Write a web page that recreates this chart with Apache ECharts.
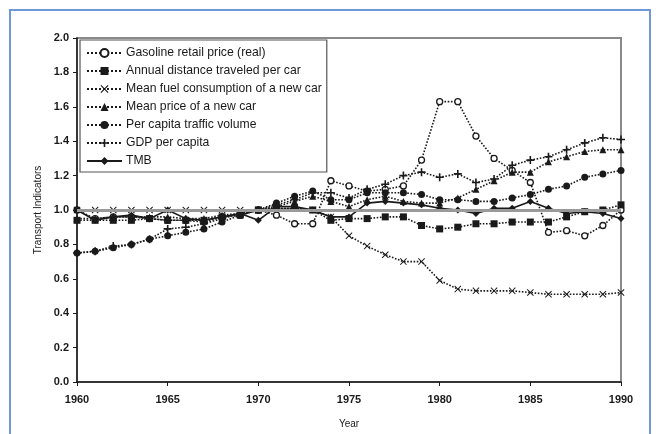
<!DOCTYPE html>
<html><head><meta charset="utf-8">
<script src="https://cdn.jsdelivr.net/npm/echarts@6/dist/echarts.min.js"></script>
<style>html,body{margin:0;padding:0;background:#fff}#c{width:659px;height:434px}</style>
</head><body><div id="c"></div>
<script>
const years = [1960,1961,1962,1963,1964,1965,1966,1967,1968,1969,1970,1971,1972,1973,1974,1975,1976,1977,1978,1979,1980,1981,1982,1983,1984,1985,1986,1987,1988,1989,1990];
const xTicks = [1960,1965,1970,1975,1980,1985,1990];
const yTicks = [0.0,0.2,0.4,0.6,0.8,1.0,1.2,1.4,1.6,1.8,2.0];
const seriesNames = ["Gasoline retail price (real)","Annual distance traveled per car","Mean fuel consumption of a new car","Mean price of a new car","Per capita traffic volume","GDP per capita","TMB"];
const gasoline = [1.00,0.95,0.96,0.96,0.95,0.94,0.94,0.93,0.96,0.97,1.00,0.97,0.92,0.92,1.17,1.14,1.11,1.12,1.14,1.29,1.63,1.63,1.43,1.30,1.23,1.16,0.87,0.88,0.85,0.91,1.00];
const annualDistance = [0.94,0.94,0.94,0.94,0.95,0.94,0.94,0.94,0.96,0.97,1.00,1.01,1.01,1.00,0.94,0.95,0.95,0.96,0.96,0.91,0.89,0.90,0.92,0.92,0.93,0.93,0.93,0.96,0.99,1.00,1.03];
const fuelConsumption = [1.00,1.00,1.00,1.00,1.00,1.00,1.00,1.00,1.00,1.00,1.00,1.01,1.01,1.00,0.96,0.85,0.79,0.74,0.70,0.70,0.59,0.54,0.53,0.53,0.53,0.52,0.51,0.51,0.51,0.51,0.52];
const meanPrice = [0.95,0.95,0.96,0.96,0.96,0.96,0.95,0.95,0.97,0.98,1.00,1.02,1.05,1.08,1.05,1.02,1.06,1.08,1.05,1.04,1.04,1.07,1.12,1.17,1.22,1.22,1.28,1.31,1.34,1.35,1.35];
const trafficVolume = [0.75,0.76,0.78,0.80,0.83,0.85,0.87,0.89,0.93,0.97,1.00,1.04,1.08,1.11,1.06,1.06,1.10,1.10,1.10,1.09,1.06,1.06,1.05,1.05,1.07,1.09,1.12,1.14,1.19,1.21,1.23];
const gdp = [0.75,0.76,0.79,0.80,0.83,0.89,0.90,0.92,0.95,0.98,1.00,1.03,1.06,1.10,1.10,1.07,1.12,1.15,1.20,1.22,1.19,1.21,1.16,1.18,1.26,1.29,1.31,1.35,1.39,1.42,1.41];
const tmb = [1.00,0.94,0.96,0.97,0.95,1.00,0.95,0.94,0.96,0.98,0.94,1.02,1.02,1.00,0.96,0.96,1.04,1.05,1.04,1.03,1.01,1.00,0.98,1.01,1.01,1.05,1.01,0.98,0.99,0.98,0.95];
const referenceLevel = 1.0;

const X_SYM = 'path://M0,1 L1,0 L5,4 L9,0 L10,1 L6,5 L10,9 L9,10 L5,6 L1,10 L0,9 L4,5 Z';
const PLUS_SYM = 'path://M4,0 H6 V4 H10 V6 H6 V10 H4 V6 H0 V4 H4 Z';
const INK = '#1a1a1a';
const FONT = '"Liberation Sans", Arial, sans-serif';

function mk(name, vals, symbol, size, opts) {
  opts = opts || {};
  return Object.assign({
    name: name, type: 'line',
    data: years.map((y, i) => [y, vals[i]]),
    symbol: symbol, symbolSize: size,
    showAllSymbol: true,
    lineStyle: { color: INK, width: 1.6, type: opts.solid ? 'solid' : 'dotted' },
    itemStyle: { color: opts.empty ? '#fff' : INK, borderColor: INK, borderWidth: opts.empty ? 1.3 : 0 },
    emphasis: { disabled: true },
    z: opts.z || 3
  }, opts.extra || {});
}

const chart = echarts.init(document.getElementById('c'), null, { renderer: 'canvas' });
chart.setOption({
  animation: false,
  backgroundColor: '#fff',
  graphic: [{
    type: 'rect', shape: { x: 10, y: 10, width: 640, height: 440 },
    style: { fill: 'none', stroke: '#6f98d8', lineWidth: 2 }, silent: true, z: 100
  }],
  grid: { left: 77, right: 38, top: 38, bottom: 45, show: true, borderColor: '#8a8a8a', borderWidth: 2, backgroundColor: '#fff' },
  legend: {
    orient: 'vertical', left: 80, top: 40,
    padding: [4, 5, 2, 6], itemGap: 0, itemWidth: 35, itemHeight: 10,
    backgroundColor: '#fff', borderColor: '#555', borderWidth: 1.2,
    textStyle: { fontFamily: FONT, fontSize: 12.2, lineHeight: 18, color: INK, padding: [0, 0, 0, -1] },
    data: seriesNames
  },
  xAxis: {
    type: 'value', min: 1960, max: 1990, interval: 5,
    name: 'Year', nameLocation: 'middle', nameGap: 37,
    nameTextStyle: { fontFamily: FONT, fontSize: 10, color: INK },
    axisLine: { lineStyle: { color: INK, width: 1.5 } },
    axisTick: { length: 4, lineStyle: { color: INK } },
    axisLabel: { fontFamily: FONT, fontSize: 11, fontWeight: 'bold', color: INK, margin: 12,
      formatter: v => xTicks.indexOf(v) >= 0 ? String(v) : '' },
    splitLine: { show: false }
  },
  yAxis: {
    type: 'value', min: 0, max: 2, interval: 0.2,
    name: 'Transport Indicators', nameLocation: 'middle', nameGap: 29, nameRotate: 90,
    nameTextStyle: { fontFamily: FONT, fontSize: 10, color: INK },
    axisLine: { show: true, lineStyle: { color: INK, width: 1.5 } },
    axisTick: { show: true, length: 4, lineStyle: { color: INK } },
    axisLabel: { fontFamily: FONT, fontSize: 11, fontWeight: 'bold', color: INK, margin: 8,
      formatter: v => { const t = yTicks.find(k => Math.abs(k - v) < 1e-6); return t === undefined ? '' : t.toFixed(1); } },
    splitLine: { show: false }
  },
  series: [
    mk(seriesNames[0], gasoline, 'circle', 6, { empty: true }),
    mk(seriesNames[1], annualDistance, 'rect', 7),
    mk(seriesNames[2], fuelConsumption, X_SYM, 7),
    mk(seriesNames[3], meanPrice, 'triangle', 7),
    mk(seriesNames[4], trafficVolume, 'circle', 7),
    mk(seriesNames[5], gdp, PLUS_SYM, 8),
    mk(seriesNames[6], tmb, 'diamond', 7, { solid: true, z: 4, extra: {
      markLine: { silent: true, symbol: 'none', label: { show: false },
        lineStyle: { color: '#9a9a9a', width: 3, type: 'solid' },
        data: [{ yAxis: referenceLevel }] }
    } })
  ]
});
</script>
</body></html>
